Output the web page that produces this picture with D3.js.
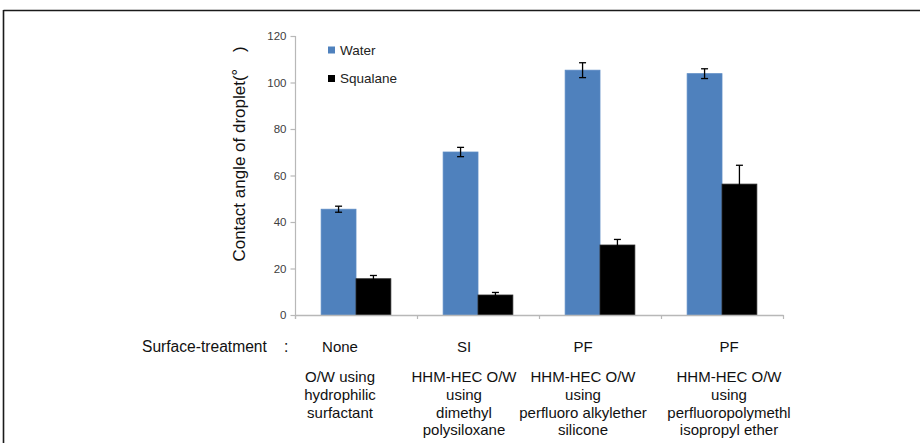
<!DOCTYPE html>
<html>
<head>
<meta charset="utf-8">
<script src="https://cdn.jsdelivr.net/npm/d3@7"></script>
<style>
  html, body { margin: 0; padding: 0; background: #fff; }
  svg { display: block; font-family: "Liberation Sans", Arial, sans-serif; }
</style>
</head>
<body>
<svg id="chart" width="920" height="443"></svg>
<script>
// Contact angle of water and squalane droplets on treated surfaces
const categories = ["None", "SI", "PF-1", "PF-2"];
const treatmentLabels = ["None", "SI", "PF", "PF"];
const descriptions = [
  ["O/W using", "hydrophilic", "surfactant"],
  ["HHM-HEC O/W", "using", "dimethyl", "polysiloxane"],
  ["HHM-HEC O/W", "using", "perfluoro alkylether", "silicone"],
  ["HHM-HEC O/W", "using", "perfluoropolymethl", "isopropyl ether"]
];
const seriesNames = ["Water", "Squalane"];
const waterValues = [45.5, 70.1, 105.3, 103.8];
const waterErrors = [1.3, 2.0, 3.2, 2.1];
const squalaneValues = [15.6, 8.6, 30.1, 56.3];
const squalaneErrors = [1.4, 1.1, 2.4, 8.1];
const yTicks = [0, 20, 40, 60, 80, 100, 120];

// label anchors below the axis
const labelX = [340, 464, 583, 729];

const colors = { Water: "#4F81BD", Squalane: "#000000" };
const values = { Water: waterValues, Squalane: squalaneValues };
const errors = { Water: waterErrors, Squalane: squalaneErrors };

const svg = d3.select("#chart");

// outer frame lines
svg.append("line").attr("x1", 3.5).attr("x2", 920).attr("y1", 10.5).attr("y2", 10.5)
  .attr("stroke", "#1a1a1a").attr("stroke-width", 1.6);
svg.append("line").attr("x1", 3.5).attr("x2", 3.5).attr("y1", 10).attr("y2", 443)
  .attr("stroke", "#1a1a1a").attr("stroke-width", 1.6);

const y = d3.scaleLinear().domain([0, 120]).range([315, 36]);
const x0 = d3.scaleBand().domain(categories).range([295, 783]).paddingInner(0).paddingOuter(0);
const x1 = d3.scaleBand().domain(seriesNames).range([0, x0.bandwidth()])
  .paddingInner(0).paddingOuter(0.75);

// y axis
const yAxis = d3.axisLeft(y).tickValues(yTicks).tickSize(5).tickPadding(4);
const gy = svg.append("g").attr("transform", "translate(295.5,0)").call(yAxis);
gy.select(".domain").attr("stroke", "#b8b8b8").attr("stroke-width", 1.2)
  .attr("d", `M0,${y(120)}V${y(0) + 4}`);
gy.selectAll(".tick line").attr("stroke", "#b8b8b8").attr("stroke-width", 1.2);
gy.selectAll(".tick text").attr("fill", "#404040").style("font-size", "11.5px")
  .style("font-family", "Liberation Sans, Arial, sans-serif");

// bars
const groups = svg.append("g").selectAll("g").data(categories).join("g")
  .attr("transform", d => `translate(${x0(d)},0)`);

seriesNames.forEach(s => {
  groups.append("rect")
    .attr("x", x1(s))
    .attr("width", x1.bandwidth())
    .attr("y", (d, i) => y(values[s][i]))
    .attr("height", (d, i) => y(0) - y(values[s][i]))
    .attr("fill", colors[s])
    .attr("stroke", s === "Water" ? "#5a8ac4" : "#262626")
    .attr("stroke-width", 0.8);
});

// x axis line and boundary ticks
svg.append("line").attr("x1", 295).attr("x2", 783.5)
  .attr("y1", y(0) + 0.5).attr("y2", y(0) + 0.5)
  .attr("stroke", "#b8b8b8").attr("stroke-width", 1.4);
const bounds = categories.map(c => x0(c)).concat([x0.range()[1]]);
svg.append("g").selectAll("line").data(bounds).join("line")
  .attr("x1", d => d + 0.5).attr("x2", d => d + 0.5)
  .attr("y1", y(0)).attr("y2", y(0) + 4)
  .attr("stroke", "#b8b8b8").attr("stroke-width", 1.2);

// error bars
seriesNames.forEach(s => {
  const eb = groups.append("g");
  const cx = x1(s) + x1.bandwidth() / 2;
  eb.append("line")
    .attr("x1", cx).attr("x2", cx)
    .attr("y1", (d, i) => y(values[s][i] + errors[s][i]))
    .attr("y2", (d, i) => y(values[s][i] - errors[s][i]))
    .attr("stroke", "#000").attr("stroke-width", 1.3);
  ["+", "-"].forEach(sign => {
    eb.append("line")
      .attr("x1", cx - 3.5).attr("x2", cx + 3.5)
      .attr("y1", (d, i) => y(values[s][i] + (sign === "+" ? 1 : -1) * errors[s][i]))
      .attr("y2", (d, i) => y(values[s][i] + (sign === "+" ? 1 : -1) * errors[s][i]))
      .attr("stroke", "#000").attr("stroke-width", 1.3);
  });
});

// legend
const legend = svg.append("g").selectAll("g").data(seriesNames).join("g")
  .attr("transform", (d, i) => `translate(328,${50 + i * 28.5})`);
legend.append("rect").attr("x", 0).attr("y", -3.5).attr("width", 7).attr("height", 7)
  .attr("fill", d => colors[d]);
legend.append("text").attr("x", 12).attr("y", 0).attr("dy", "0.36em")
  .attr("fill", "#222").style("font-size", "13.5px").text(d => d);

// y axis title
const yt = svg.append("text")
  .attr("transform", "translate(245,154) rotate(-90)")
  .attr("text-anchor", "middle")
  .attr("fill", "#111")
  .style("font-size", "17px");
yt.append("tspan").text("Contact angle of droplet(");
yt.append("tspan").style("font-family", "Noto Sans CJK JP").text("°\u3000");
yt.append("tspan").text(")");

// surface-treatment row
const st = svg.append("text").attr("x", 142).attr("y", 346).attr("dy", "0.36em")
  .attr("fill", "#111").style("font-size", "15.6px");
st.append("tspan").text("Surface-treatment");
st.append("tspan").attr("x", 284).text(":");

svg.append("g").selectAll("text").data(treatmentLabels).join("text")
  .attr("x", (d, i) => labelX[i])
  .attr("y", 347).attr("dy", "0.36em")
  .attr("text-anchor", "middle")
  .attr("fill", "#111").style("font-size", "15px")
  .text(d => d);

// formulation descriptions
const desc = svg.append("g").selectAll("text").data(descriptions).join("text")
  .attr("text-anchor", "middle")
  .attr("fill", "#111").style("font-size", "15px");
desc.selectAll("tspan").data((d, i) => d.map(line => ({ line, i })))
  .join("tspan")
  .attr("x", d => labelX[d.i])
  .attr("y", (d, j) => 377 + j * 17.6)
  .attr("dy", "0.36em")
  .text(d => d.line);
</script>
</body>
</html>
